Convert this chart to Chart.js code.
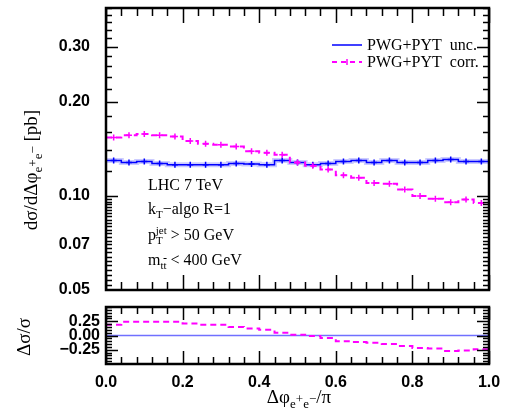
<!DOCTYPE html>
<html>
<head>
<meta charset="utf-8">
<script src="https://cdn.jsdelivr.net/npm/chart.js@4.4.0/dist/chart.umd.min.js"></script>
<style>
  body { margin: 0; background: #fff; width: 507px; height: 410px; overflow: hidden; position: relative; font-family: "Liberation Serif", serif; color: #000; }
  canvas { position: absolute; left: 0; }
  #topChart { top: 0; }
  #ratioChart { top: 295px; }
  .txt { position: absolute; font-size: 16px; line-height: 18px; white-space: nowrap; }
  .big { font-size: 19px; line-height: 20px; }
  .rot { transform: translate(-50%, -50%) rotate(-90deg); }
  .ctr { transform: translate(-50%, -50%); }
  sub, sup { font-size: 11px; line-height: 0; }
  .big sub, .big sup { font-size: 13px; }
  .ov { text-decoration: overline; }
</style>
</head>
<body>
<canvas id="topChart" width="507" height="300"></canvas>
<canvas id="ratioChart" width="507" height="115"></canvas>

<div class="txt big rot" style="left:31px; top:170px;">d&sigma;/d&Delta;&phi;<sub>e<sup>+</sup>e<sup>&minus;</sup></sub> [pb]</div>
<div class="txt big rot" style="left:24px; top:337px;">&Delta;&sigma;/&sigma;</div>
<div class="txt big ctr" style="left:299px; top:397px;">&Delta;&phi;<sub>e<sup>+</sup>e<sup>&minus;</sup></sub>/&pi;</div>

<!-- legend -->
<svg style="position:absolute; left:330px; top:38px;" width="34" height="30">
  <line x1="2" y1="7" x2="32" y2="7" stroke="#0000ff" stroke-width="1.5"/>
  <line x1="2" y1="24" x2="32" y2="24" stroke="#ff00ff" stroke-width="2" stroke-dasharray="5,4"/>
  <line x1="17" y1="21" x2="17" y2="27" stroke="#ff00ff" stroke-width="1.5"/>
</svg>
<div class="txt" style="left:367px; top:36px;">PWG+PYT&nbsp; unc.</div>
<div class="txt" style="left:367px; top:53px;">PWG+PYT&nbsp; corr.</div>

<!-- annotations -->
<div class="txt" style="left:148px; top:176px;">LHC 7 TeV</div>
<div class="txt" style="left:148px; top:200px;">k<sub>T</sub>&minus;algo R=1</div>
<div class="txt" style="left:148px; top:226px;">p<sub>T</sub><sup style="margin-left:-7px">jet</sup> &gt; 50 GeV</div>
<div class="txt" style="left:148px; top:251px;">m<sub>t<span class="ov">t</span></sub> &lt; 400 GeV</div>

<script>
// bins in delta phi / pi
const binEdges = [0.00, 0.04, 0.08, 0.12, 0.16, 0.20, 0.24, 0.28, 0.32, 0.36, 0.40, 0.44, 0.48,
                  0.52, 0.56, 0.60, 0.64, 0.68, 0.72, 0.76, 0.80, 0.84, 0.88, 0.92, 0.96, 1.00];

// dsigma/d(dphi) [pb]
const pwgUnc  = [0.130, 0.128, 0.129, 0.127, 0.126, 0.126, 0.126, 0.126, 0.127, 0.1265, 0.126, 0.130, 0.128,
                 0.126, 0.127, 0.129, 0.130, 0.128, 0.130, 0.128, 0.128, 0.130, 0.131, 0.129, 0.129];
const pwgCorr = [0.154, 0.1565, 0.158, 0.1565, 0.155, 0.150, 0.147, 0.146, 0.144, 0.139, 0.1375, 0.1355, 0.128,
                 0.125, 0.1215, 0.1165, 0.1145, 0.110, 0.1095, 0.105, 0.100, 0.098, 0.0955, 0.0975, 0.095];

// relative difference
const ratioUnc  = [0, 0, 0, 0, 0, 0, 0, 0, 0, 0, 0, 0, 0, 0, 0, 0, 0, 0, 0, 0, 0, 0, 0, 0, 0];
const ratioCorr = [0.19, 0.24, 0.24, 0.24, 0.24, 0.21, 0.19, 0.19, 0.15, 0.125, 0.10, 0.05, 0.015,
                   -0.01, -0.045, -0.10, -0.115, -0.125, -0.15, -0.185, -0.22, -0.23, -0.27, -0.265, -0.24];

const xTicks = [0.0, 0.2, 0.4, 0.6, 0.8, 1.0];
const yTicksTop = [0.05, 0.07, 0.10, 0.20, 0.30];
const yTicksRatio = [-0.25, 0.00, 0.25];

const BLUE = '#0000ff';
const MAGENTA = '#ff00ff';
const tickFont = { family: '"Liberation Sans", Arial, sans-serif', size: 16, weight: 'bold', lineHeight: 1 };

// step outline: each value held from its left edge to the next edge
const stepPts = vals => binEdges.map((x, i) => ({ x, y: vals[Math.min(i, vals.length - 1)] }));
const centerPts = vals => vals.map((y, i) => ({ x: (binEdges[i] + binEdges[i + 1]) / 2, y }));

// minor tick positions
const range = (a, b, s) => { const r = []; for (let v = a; v <= b + 1e-9; v += s) r.push(+v.toFixed(4)); return r; };
const xMinor = range(0, 1, 0.04);
const topMinor = range(0.05, 0.1, 0.002).concat(range(0.12, 0.4, 0.02));
const ratioMinor = range(-0.5, 0.5, 0.05);

// frame with inward ticks on all four sides
const frameTicks = {
  id: 'frameTicks',
  afterDatasetsDraw(chart, args, o) {
    const { ctx, chartArea: a, scales: { x, y } } = chart;
    ctx.save();
    ctx.strokeStyle = '#000';
    ctx.lineWidth = 1.5;
    ctx.beginPath();
    const xt = (v, len) => {
      const p = Math.round(x.getPixelForValue(v)) + 0.5;
      ctx.moveTo(p, a.top); ctx.lineTo(p, a.top + len);
      ctx.moveTo(p, a.bottom); ctx.lineTo(p, a.bottom - len);
    };
    const yt = (v, len) => {
      const p = Math.round(y.getPixelForValue(v)) + 0.5;
      if (p < a.top || p > a.bottom) return;
      ctx.moveTo(a.left, p); ctx.lineTo(a.left + len, p);
      ctx.moveTo(a.right, p); ctx.lineTo(a.right - len, p);
    };
    xMinor.forEach(v => xt(v, o.xMin));
    xTicks.forEach(v => xt(v, o.xMaj));
    o.yMinor.forEach(v => yt(v, o.yMin));
    o.yMajor.forEach(v => yt(v, o.yMaj));
    ctx.stroke();
    ctx.lineWidth = 2.5;
    ctx.strokeRect(a.left, a.top, a.right - a.left, a.bottom - a.top);
    ctx.restore();
  }
};

const lineDs = (data, color, width, dash) => ({
  type: 'line', data, borderColor: color, borderWidth: width, borderDash: dash || [],
  stepped: true, pointRadius: 0, fill: false
});
const markDs = (data, color) => ({
  type: 'scatter', data, showLine: false, pointStyle: 'cross', pointRadius: 3,
  borderColor: color, borderWidth: 1.5, backgroundColor: color
});

new Chart(document.getElementById('topChart'), {
  type: 'line',
  data: {
    datasets: [
      markDs(centerPts(pwgCorr), MAGENTA),
      lineDs(stepPts(pwgCorr), MAGENTA, 2, [6, 4]),
      markDs(centerPts(pwgUnc), BLUE),
      lineDs(stepPts(pwgUnc), BLUE, 1.5),
      lineDs(stepPts(pwgUnc), 'rgba(110,110,255,0.35)', 5)
    ]
  },
  plugins: [frameTicks],
  options: {
    responsive: false,
    animation: false,
    layout: { padding: { top: 8, right: 18, bottom: 10, left: 0 } },
    plugins: {
      legend: { display: false },
      tooltip: { enabled: false },
      frameTicks: { xMaj: 15, xMin: 8, yMajor: [0.1, 0.2, 0.3], yMinor: topMinor, yMaj: 12, yMin: 6 }
    },
    scales: {
      x: { type: 'linear', min: 0, max: 1, display: false },
      y: {
        type: 'logarithmic', min: 0.05, max: 0.4,
        afterBuildTicks: s => { s.ticks = yTicksTop.map(value => ({ value })); },
        afterFit: s => { s.width = 106; },
        grid: { display: false, drawTicks: true, tickLength: 16 },
        border: { display: false },
        ticks: { padding: 0, color: '#000', font: tickFont, callback: v => v.toFixed(2) }
      }
    }
  }
});

new Chart(document.getElementById('ratioChart'), {
  type: 'line',
  data: {
    datasets: [
      lineDs(stepPts(ratioCorr), MAGENTA, 2, [6, 4]),
      lineDs(stepPts(ratioUnc), '#7070ff', 1.5)
    ]
  },
  plugins: [frameTicks],
  options: {
    responsive: false,
    animation: false,
    layout: { padding: { top: 12, right: 18, bottom: 0, left: 0 } },
    plugins: {
      legend: { display: false },
      tooltip: { enabled: false },
      frameTicks: { xMaj: 13, xMin: 7, yMajor: yTicksRatio, yMinor: ratioMinor, yMaj: 12, yMin: 6 }
    },
    scales: {
      x: {
        type: 'linear', min: 0, max: 1,
        afterBuildTicks: s => { s.ticks = xTicks.map(value => ({ value })); },
        afterFit: s => { s.height = 46; },
        grid: { display: false, drawTicks: true, tickLength: 11 },
        border: { display: false },
        ticks: { padding: 0, color: '#000', font: tickFont, maxRotation: 0, callback: v => v.toFixed(1) }
      },
      y: {
        min: -0.5, max: 0.5,
        afterBuildTicks: s => { s.ticks = yTicksRatio.map(value => ({ value })); },
        afterFit: s => { s.width = 106; },
        grid: { display: false, drawTicks: true, tickLength: 6 },
        border: { display: false },
        ticks: { padding: 0, color: '#000', font: tickFont, callback: v => v.toFixed(2).replace('-', '\u2212') }
      }
    }
  }
});
</script>
</body>
</html>
